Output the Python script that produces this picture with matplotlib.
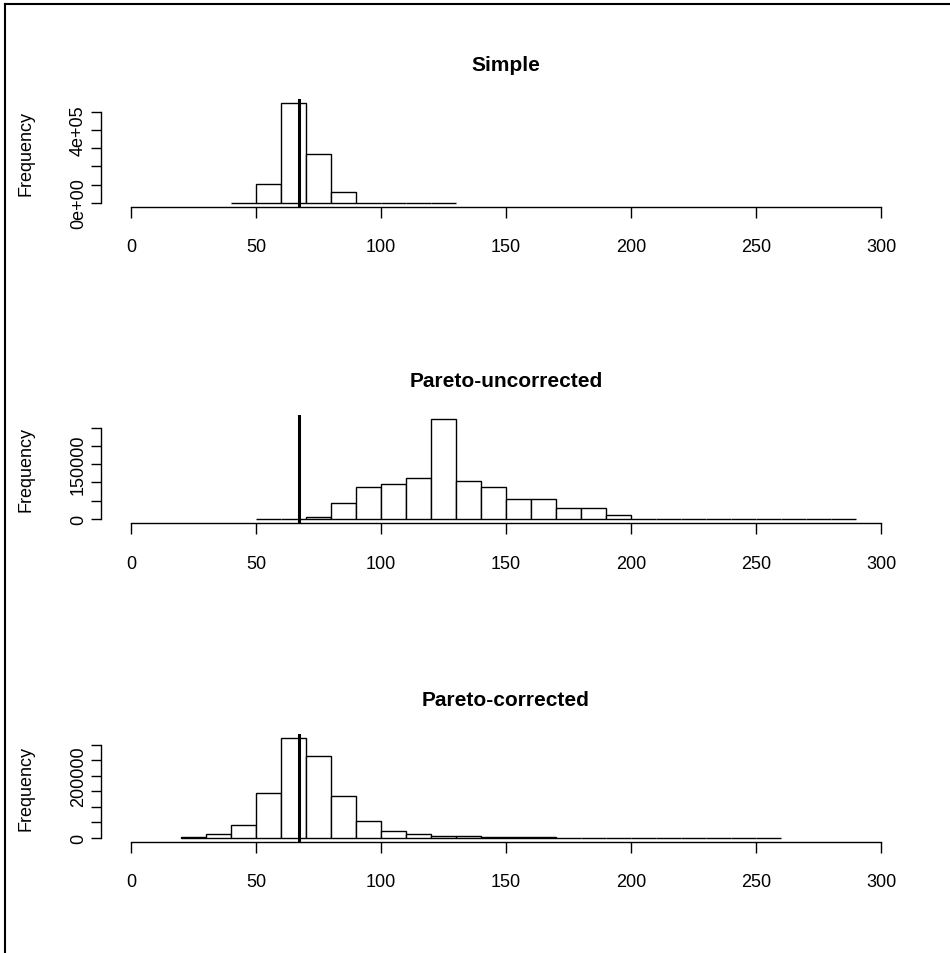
"""
Three stacked histograms (Simple / Pareto-uncorrected / Pareto-corrected)
drawn in the style of base R hist() output.
"""

import matplotlib
matplotlib.use("Agg")
import matplotlib.pyplot as plt
from matplotlib.lines import Line2D

plt.rcParams['font.family'] = ['Liberation Sans', 'DejaVu Sans']

# --- data --------------------------------------------------------------
titles = ["Simple", "Pareto-uncorrected", "Pareto-corrected"]

simple_edges = [40, 50, 60, 70, 80, 90, 100, 110, 120, 130]
simple_counts = [1000, 100500, 551000, 271000, 60000, 1000, 300, 60, 10]

uncorr_edges = [50, 60, 70, 80, 90, 100, 110, 120, 130, 140, 150, 160, 170,
                180, 190, 200, 210, 220, 230, 240, 250, 260, 270, 280, 290]
uncorr_counts = [200, 800, 5000, 44300, 87800, 97000, 112300, 273600, 103300,
                 87800, 54300, 54300, 29900, 29900, 10000, 1200, 900, 700,
                 500, 400, 300, 200, 150, 100]

corr_edges = [20, 30, 40, 50, 60, 70, 80, 90, 100, 110, 120, 130, 140, 150,
              160, 170, 180, 190, 200, 210, 220, 230, 240, 250, 260]
corr_counts = [2000, 11750, 39500, 145300, 322600, 265000, 133500, 52300,
               22400, 11700, 5300, 4500, 1500, 1100, 800, 600, 450, 350, 250,
               200, 150, 100, 80, 50]

# reference line drawn on every panel
ref_value = 67.3

x_ticks = [0, 50, 100, 150, 200, 250, 300]

simple_yticks = [0, 100000, 200000, 300000, 400000, 500000]
simple_ylabels = ["0e+00", "", "", "", "4e+05", ""]
uncorr_yticks = [0, 50000, 100000, 150000, 200000, 250000]
uncorr_ylabels = ["0", "", "", "150000", "", ""]
corr_yticks = [0, 50000, 100000, 150000, 200000, 250000, 300000]
corr_ylabels = ["0", "", "", "", "200000", "", ""]

panels = [
    (simple_edges, simple_counts, simple_yticks, simple_ylabels),
    (uncorr_edges, uncorr_counts, uncorr_yticks, uncorr_ylabels),
    (corr_edges, corr_counts, corr_yticks, corr_ylabels),
]

# --- layout (pixels of a 950x954 canvas) --------------------------------
W, H = 950, 954
left_px, width_px, height_px = 101, 810, 108
bottoms_px = [207.7, 524.0, 842.7]

fig = plt.figure(figsize=(W / 100, H / 100), dpi=100)


def draw_hist(ax, edges, counts, yticks, ylabels):
    widths = [b - a for a, b in zip(edges[:-1], edges[1:])]
    ax.bar(edges[:-1], counts, width=widths, align='edge', color='white',
           edgecolor='black', linewidth=1.0)
    ax.axvline(ref_value, color='black', linewidth=2.2)

    # R style: 4% padding on both axes
    top = max(counts)
    ax.set_ylim(-0.04 * top, 1.04 * top)
    ax.set_xlim(-12, 312)

    ax.set_xticks(x_ticks)
    ax.set_xticklabels([str(t) for t in x_ticks])
    ax.set_yticks(yticks)
    ax.set_yticklabels(ylabels)
    plt.setp(ax.get_yticklabels(), va='center')

    for side in ('top', 'right'):
        ax.spines[side].set_visible(False)
    ax.spines['bottom'].set_bounds(x_ticks[0], x_ticks[-1])
    ax.spines['left'].set_bounds(yticks[0], yticks[-1])
    for side in ('bottom', 'left'):
        ax.spines[side].set_linewidth(1.0)

    ax.tick_params(axis='x', length=7.8, width=1.0, pad=15, labelsize=13)
    ax.tick_params(axis='y', length=7.2, width=1.0, pad=3, labelsize=13,
                   labelrotation=90)


for (edges, counts, yticks, ylabels), title, bot in zip(panels, titles, bottoms_px):
    ax = fig.add_axes([left_px / W, 1 - bot / H, width_px / W, height_px / H])
    draw_hist(ax, edges, counts, yticks, ylabels)

    top_px = bot - height_px
    fig.text((left_px + width_px / 2) / W, 1 - (top_px - 29) / H, title,
             ha='center', va='baseline', fontsize=15, fontweight='bold')
    fig.text(26 / W, 1 - (bot - height_px / 2) / H, "Frequency",
             rotation=90, ha='center', va='center', fontsize=13)

# outer frame: only top and left edges are visible
fig.add_artist(Line2D([5 / W, 5 / W], [0, 1 - 5 / H],
                      transform=fig.transFigure, color='black', linewidth=1.5))
fig.add_artist(Line2D([5 / W, 1], [1 - 5 / H, 1 - 5 / H],
                      transform=fig.transFigure, color='black', linewidth=1.5))

fig.savefig("out.png", dpi=100)
plt.close(fig)
